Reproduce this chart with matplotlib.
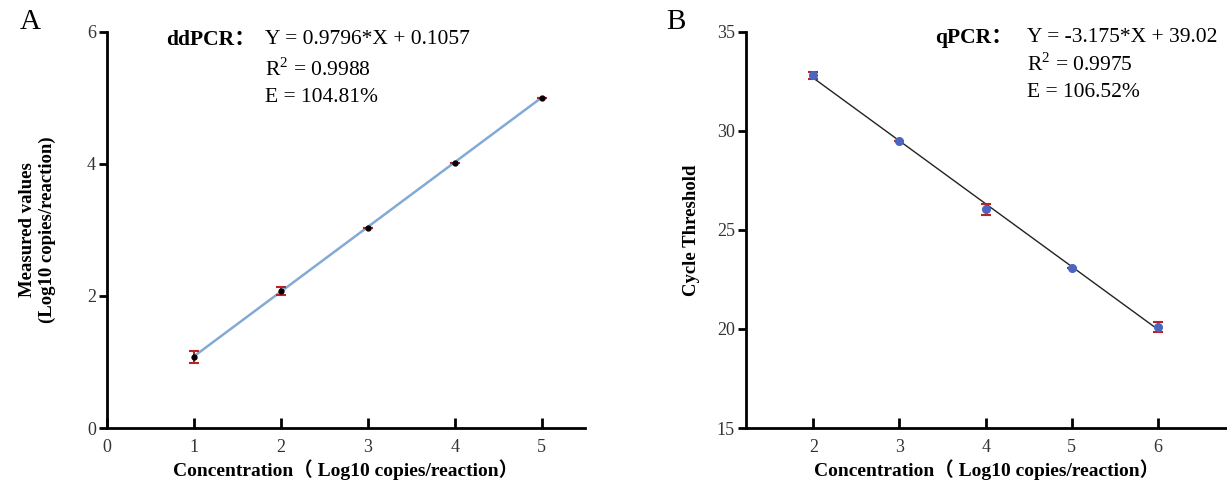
import matplotlib
matplotlib.use("Agg")
from matplotlib import pyplot as plt

plt.rcParams['font.family'] = ['Liberation Serif', 'Noto Sans CJK SC']
plt.rcParams['mathtext.fontset'] = 'custom'
plt.rcParams['mathtext.rm'] = 'Liberation Serif'

# panel A: ddPCR
dd_x = [1, 2, 3, 4, 5]
dd_y = [1.08, 2.08, 3.03, 4.02, 5.0]
dd_err = [0.09, 0.06, 0.0, 0.0, 0.0]
dd_slope, dd_icpt = 0.9796, 0.1057

# panel B: qPCR
q_x = [2, 3, 4, 5, 6]
q_y = [32.8, 29.5, 26.05, 23.1, 20.1]
q_err = [0.18, 0.0, 0.28, 0.0, 0.25]
q_slope, q_icpt = -3.175, 39.02

xlabel = 'Concentration（ Log10 copies/reaction）'
red = '#b8232a'

fig = plt.figure(figsize=(12.27, 4.82), dpi=100)
axA = fig.add_axes([0.0872, 0.112, 0.3896, 0.822])
axB = fig.add_axes([0.608, 0.112, 0.392, 0.822])

for ax in (axA, axB):
    ax.spines['top'].set_visible(False)
    ax.spines['right'].set_visible(False)
    ax.spines['left'].set_linewidth(2)
    ax.spines['bottom'].set_linewidth(2)
    ax.tick_params(axis='y', width=2, length=6, labelsize=13, direction='out',
                   labelcolor='#333333', pad=2)
    ax.tick_params(axis='x', width=2, length=7, labelsize=13, direction='in',
                   labelcolor='#333333', pad=8)
    ax.set_xlabel(xlabel, fontsize=14, fontweight='bold', labelpad=2)

# A
axA.plot([dd_x[0], dd_x[-1]], [dd_slope * dd_x[0] + dd_icpt, dd_slope * dd_x[-1] + dd_icpt],
         color='#84a9d6', lw=1.8, zorder=1)
axA.errorbar(dd_x, dd_y, yerr=dd_err, fmt='none', ecolor=red, elinewidth=1.5,
             capsize=3.5, capthick=1.5, zorder=2)
axA.plot(dd_x, dd_y, 'o', color='black', ms=3.5, zorder=3)
axA.set_xlim(0, 5.5)
axA.set_ylim(0, 6)
axA.set_xticks([0, 1, 2, 3, 4, 5])
axA.set_yticks([0, 2, 4, 6])
axA.set_ylabel('Measured values\n(Log10 copies/reaction)', fontsize=13.5,
               fontweight='bold', labelpad=22, linespacing=1.25)
axA.text(0.123, 0.98, 'ddPCR：', transform=axA.transAxes, fontsize=15.5,
         fontweight='bold', va='center')
axA.text(0.33, 0.98, 'Y = 0.9796*X + 0.1057', transform=axA.transAxes, fontsize=15.5, va='center')
axA.text(0.33, 0.905, 'R$^2$ = 0.9988', transform=axA.transAxes, fontsize=15.5, va='center')
axA.text(0.33, 0.835, 'E = 104.81%', transform=axA.transAxes, fontsize=15.5, va='center')

# B
axB.plot([q_x[0], q_x[-1]], [q_slope * q_x[0] + q_icpt, q_slope * q_x[-1] + q_icpt],
         color='#222222', lw=1.0, zorder=1)
axB.errorbar(q_x, q_y, yerr=q_err, fmt='none', ecolor=red, elinewidth=1.5,
             capsize=3.5, capthick=1.5, zorder=2)
axB.plot(q_x, q_y, 'o', color='#4a66c0', ms=5.5, zorder=3)
axB.set_xlim(1.22, 6.8)
axB.set_ylim(15, 35)
axB.set_xticks([2, 3, 4, 5, 6])
axB.set_yticks([15, 20, 25, 30, 35])
axB.set_ylabel('Cycle Threshold', fontsize=13.5, fontweight='bold', labelpad=12)
axB.text(0.393, 0.985, 'qPCR：', transform=axB.transAxes, fontsize=15.5,
         fontweight='bold', va='center')
axB.text(0.584, 0.985, 'Y = -3.175*X + 39.02', transform=axB.transAxes, fontsize=15.5, va='center')
axB.text(0.584, 0.917, 'R$^2$ = 0.9975', transform=axB.transAxes, fontsize=15.5, va='center')
axB.text(0.584, 0.848, 'E = 106.52%', transform=axB.transAxes, fontsize=15.5, va='center')

fig.text(30 / 1227, 1 - 22 / 482, 'A', fontsize=21, va='center', ha='center')
fig.text(676 / 1227, 1 - 22 / 482, 'B', fontsize=21, va='center', ha='center')

fig.savefig('out.png', dpi=100)
